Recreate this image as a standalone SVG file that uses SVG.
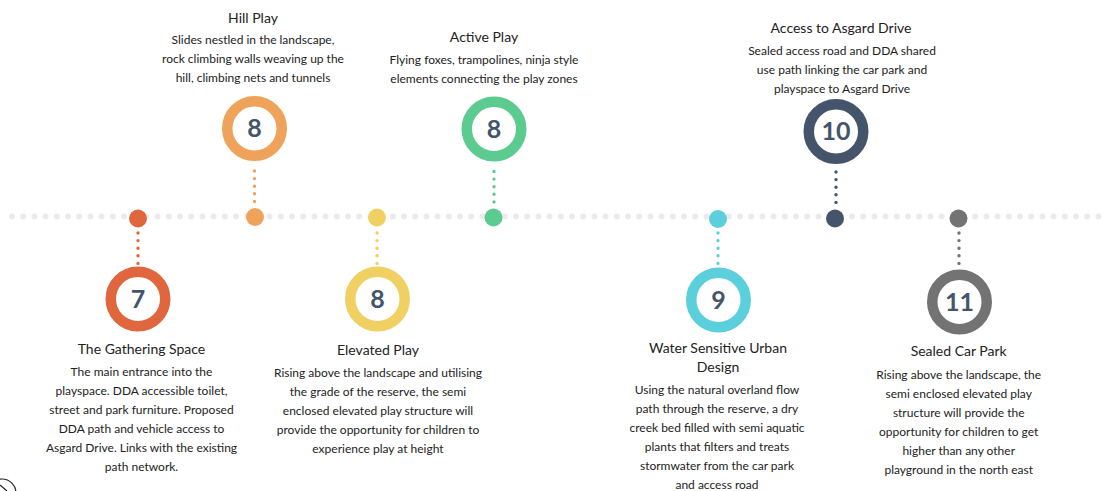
<svg xmlns="http://www.w3.org/2000/svg" width="1107" height="491" viewBox="0 0 1107 491">
<style>
.t{font-family:Lato,"Liberation Sans",sans-serif;font-size:14px;fill:#222;text-anchor:middle}
.b{font-family:Lato,"Liberation Sans",sans-serif;font-size:12px;fill:#222;text-anchor:middle}
.n{font-family:Lato,"Liberation Sans",sans-serif;font-size:25px;font-weight:bold;fill:#44546a;text-anchor:middle}
.ring{fill:#fff;stroke-width:10.5}
.cd{stroke-width:3.4;stroke-linecap:round;stroke-dasharray:0 7.6;fill:none}
</style>
<rect width="1107" height="491" fill="#fff"/>
<g id="connectors">
  <line x1="12" y1="216.5" x2="1100" y2="216.5" stroke="#ebebeb" stroke-width="6" stroke-linecap="round" stroke-dasharray="0 11.2"/>
  <line class="cd" stroke="#df663d" x1="138" y1="233" x2="138" y2="264"/>
  <line class="cd" stroke="#efa35a" x1="254.5" y1="171" x2="254.5" y2="202"/>
  <line class="cd" stroke="#f0cf63" x1="377" y1="233" x2="377" y2="264"/>
  <line class="cd" stroke="#5ccb8f" x1="494" y1="171.5" x2="494" y2="202"/>
  <line class="cd" stroke="#5ccfdd" x1="718" y1="233" x2="718" y2="264"/>
  <line class="cd" stroke="#44546a" x1="836" y1="172" x2="836" y2="203"/>
  <line class="cd" stroke="#737373" x1="959" y1="233" x2="959" y2="264"/>
</g>
<g id="node-7">
  <circle cx="138" cy="218.5" r="9" fill="#df663d"/>
  <circle class="ring" stroke="#df663d" cx="138" cy="299" r="27.25"/>
  <text class="n" x="138" y="307.5">7</text>
  <text class="t" x="141.5" y="354">The Gathering Space</text>
  <text class="b" x="141.5" y="376">The main entrance into the</text>
  <text class="b" x="141.5" y="395">playspace. DDA accessible toilet,</text>
  <text class="b" x="141.5" y="414">street and park furniture. Proposed</text>
  <text class="b" x="141.5" y="433">DDA path and vehicle access to</text>
  <text class="b" x="141.5" y="452">Asgard Drive. Links with the existing</text>
  <text class="b" x="141.5" y="471">path network.</text>
</g>
<g id="node-8-hill">
  <circle cx="255" cy="217" r="9" fill="#efa35a"/>
  <circle class="ring" stroke="#efa35a" cx="254.5" cy="128.5" r="27.25"/>
  <text class="n" x="254.5" y="137">8</text>
  <text class="t" x="253" y="22.5">Hill Play</text>
  <text class="b" x="253" y="44">Slides nestled in the landscape,</text>
  <text class="b" x="253" y="63.3">rock climbing walls weaving up the</text>
  <text class="b" x="253" y="82.3">hill, climbing nets and tunnels</text>
</g>
<g id="node-8-elevated">
  <circle cx="377" cy="217.5" r="9" fill="#f0cf63"/>
  <circle class="ring" stroke="#f0cf63" cx="377.5" cy="299" r="27.25"/>
  <text class="n" x="377.5" y="307.5">8</text>
  <text class="t" x="378" y="355">Elevated Play</text>
  <text class="b" x="378" y="377">Rising above the landscape and utilising</text>
  <text class="b" x="378" y="396.3">the grade of the reserve, the semi</text>
  <text class="b" x="378" y="415">enclosed elevated play structure will</text>
  <text class="b" x="378" y="434">provide the opportunity for children to</text>
  <text class="b" x="378" y="453">experience play at height</text>
</g>
<g id="node-8-active">
  <circle cx="493.5" cy="217.5" r="9" fill="#5ccb8f"/>
  <circle class="ring" stroke="#5ccb8f" cx="494" cy="129" r="27.25"/>
  <text class="n" x="494" y="137.5">8</text>
  <text class="t" x="484" y="42">Active Play</text>
  <text class="b" x="484" y="64.3">Flying foxes, trampolines, ninja style</text>
  <text class="b" x="484" y="83">elements connecting the play zones</text>
</g>
<g id="node-9">
  <circle cx="718" cy="219" r="9" fill="#5ccfdd"/>
  <circle class="ring" stroke="#5ccfdd" cx="718.5" cy="300" r="27.25"/>
  <text class="n" x="718.5" y="308.5">9</text>
  <text class="t" x="718" y="353">Water Sensitive Urban</text>
  <text class="t" x="718" y="372">Design</text>
  <text class="b" x="717" y="394">Using the natural overland flow</text>
  <text class="b" x="717" y="413">path through the reserve, a dry</text>
  <text class="b" x="717" y="431.7">creek bed filled with semi aquatic</text>
  <text class="b" x="717" y="450.7">plants that filters and treats</text>
  <text class="b" x="717" y="469.7">stormwater from the car park</text>
  <text class="b" x="717" y="489">and access road</text>
</g>
<g id="node-10">
  <circle cx="835" cy="218.5" r="9" fill="#44546a"/>
  <circle class="ring" stroke="#44546a" cx="836" cy="131.5" r="27.25"/>
  <text class="n" x="836" y="140">10</text>
  <text class="t" x="841" y="33">Access to Asgard Drive</text>
  <text class="b" x="842" y="55">Sealed access road and DDA shared</text>
  <text class="b" x="842" y="74">use path linking the car park and</text>
  <text class="b" x="842" y="93.3">playspace to Asgard Drive</text>
</g>
<g id="node-11">
  <circle cx="958.5" cy="218.5" r="9" fill="#737373"/>
  <circle class="ring" stroke="#737373" cx="959.5" cy="302" r="27.25"/>
  <text class="n" x="959.5" y="310.5">11</text>
  <text class="t" x="958.7" y="356">Sealed Car Park</text>
  <text class="b" x="958.7" y="379">Rising above the landscape, the</text>
  <text class="b" x="958.7" y="398">semi enclosed elevated play</text>
  <text class="b" x="958.7" y="417.3">structure will provide the</text>
  <text class="b" x="958.7" y="436.3">opportunity for children to get</text>
  <text class="b" x="958.7" y="455">higher than any other</text>
  <text class="b" x="958.7" y="474">playground in the north east</text>
</g>
<g id="corner-icon" fill="none" stroke="#222" stroke-width="1.2">
  <circle cx="2" cy="493" r="14"/>
  <path d="M0 485 L7 491"/>
</g>
</svg>
